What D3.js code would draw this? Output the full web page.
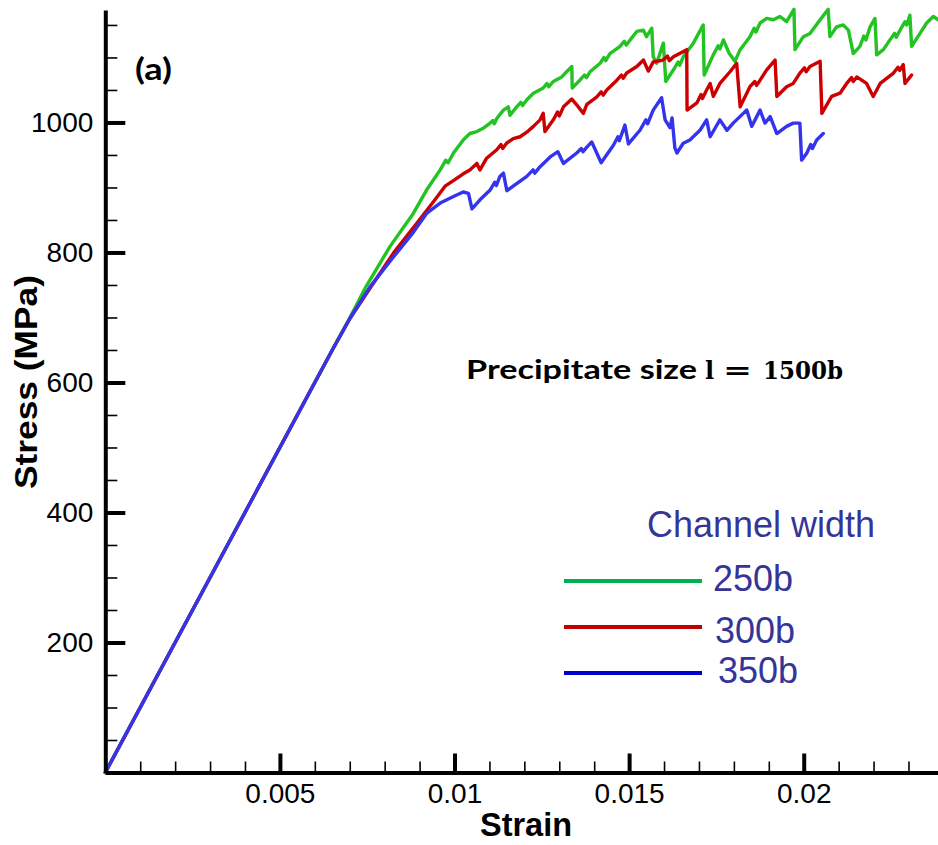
<!DOCTYPE html>
<html>
<head>
<meta charset="utf-8">
<script src="https://cdn.jsdelivr.net/npm/d3@7"></script>
<style>
  html, body { margin: 0; padding: 0; background: #fff; }
  svg { display: block; }
</style>
</head>
<body>
<svg id="chart" width="938" height="845"></svg>
<script>
// ---------------- DATA ----------------
const strainMajorTicks = [0.005, 0.01, 0.015, 0.02];
const strainTickLabels = ["0.005", "0.01", "0.015", "0.02"];
const stressMajorTicks = [200, 400, 600, 800, 1000];
const stressTickLabels = ["200", "400", "600", "800", "1000"];

const legendLabels = ["250b", "300b", "350b"];

// [strain, stress (MPa)]
const width250 = [[0,0],[0.0065,650],[0.0070,699],[0.00744,745],[0.00815,809],[0.00882,860],[0.00920,896],[0.00959,927],[0.00975,942],[0.00982,938],[0.00997,953],[0.01025,973],[0.01044,983],[0.01064,986],[0.01082,991],[0.01102,999],[0.01110,1003],[0.01114,998],[0.01121,1006],[0.01140,1019],[0.01154,1024],[0.01159,1011],[0.01178,1024],[0.01190,1031],[0.01195,1026],[0.01207,1035],[0.01226,1045],[0.01254,1053],[0.01265,1060],[0.01270,1055],[0.01283,1063],[0.01307,1070],[0.01321,1078],[0.01336,1086],[0.01337,1053],[0.01359,1065],[0.01372,1073],[0.01378,1069],[0.01388,1078],[0.01417,1091],[0.01428,1100],[0.01433,1095],[0.01445,1106],[0.01474,1117],[0.01486,1125],[0.01492,1119],[0.01503,1127],[0.01522,1140],[0.01541,1142],[0.01550,1132],[0.01565,1145],[0.01569,1101],[0.01579,1091],[0.01598,1122],[0.01605,1063],[0.01627,1081],[0.01640,1093],[0.01645,1088],[0.01655,1101],[0.01684,1122],[0.01712,1150],[0.01715,1073],[0.01741,1104],[0.01755,1118],[0.01760,1113],[0.01770,1127],[0.01787,1106],[0.01803,1094],[0.01818,1112],[0.01846,1132],[0.01858,1145],[0.01863,1139],[0.01875,1153],[0.01894,1160],[0.01913,1158],[0.01932,1163],[0.01951,1155],[0.01972,1174],[0.01975,1112],[0.01999,1132],[0.02018,1137],[0.02047,1158],[0.02070,1174],[0.02075,1132],[0.02094,1147],[0.02113,1150],[0.02128,1142],[0.02142,1106],[0.02161,1117],[0.02172,1133],[0.02178,1127],[0.02190,1147],[0.02204,1160],[0.02209,1104],[0.02228,1112],[0.02247,1127],[0.02260,1137],[0.02265,1131],[0.02276,1142],[0.02290,1155],[0.02295,1150],[0.02304,1165],[0.02309,1117],[0.02333,1137],[0.02352,1153],[0.02371,1163],[0.02385,1158]];

const width300 = [[0,0],[0.0065,650],[0.0070,698],[0.00758,745],[0.00825,799],[0.00892,845],[0.00944,881],[0.00973,902],[0.01001,912],[0.01025,921],[0.01044,927],[0.01064,937],[0.01073,927],[0.01092,945],[0.01121,958],[0.01133,966],[0.01138,960],[0.01149,968],[0.01168,975],[0.01188,978],[0.01207,985],[0.01226,994],[0.01245,1004],[0.01254,1014],[0.01259,986],[0.01283,1004],[0.01295,1016],[0.01300,1010],[0.01312,1024],[0.01336,1036],[0.01350,1027],[0.01369,1014],[0.01379,1028],[0.01407,1039],[0.01420,1047],[0.01426,1042],[0.01436,1050],[0.01465,1065],[0.01478,1073],[0.01483,1068],[0.01493,1076],[0.01522,1086],[0.01541,1096],[0.01555,1079],[0.01569,1093],[0.01597,1096],[0.01610,1102],[0.01615,1095],[0.01627,1101],[0.01665,1112],[0.01666,1019],[0.01694,1030],[0.01706,1043],[0.01710,1037],[0.01722,1050],[0.01732,1060],[0.01741,1040],[0.01760,1060],[0.01789,1078],[0.01808,1091],[0.01818,1024],[0.01846,1055],[0.01860,1063],[0.01865,1057],[0.01875,1065],[0.01894,1081],[0.01918,1096],[0.01923,1040],[0.01951,1055],[0.01970,1060],[0.01989,1076],[0.02002,1084],[0.02007,1078],[0.02018,1086],[0.02047,1094],[0.02052,1014],[0.02080,1040],[0.02104,1045],[0.02123,1060],[0.02137,1069],[0.02142,1063],[0.02152,1070],[0.02180,1060],[0.02199,1040],[0.02219,1060],[0.02257,1076],[0.02270,1085],[0.02275,1080],[0.02285,1089],[0.02290,1060],[0.02309,1073]];

const width350 = [[0,0],[0.0065,650],[0.0070,698],[0.00758,747],[0.00825,793],[0.00882,831],[0.00920,860],[0.00959,876],[0.00997,886],[0.01025,893],[0.01040,891],[0.01050,867],[0.01073,881],[0.01102,896],[0.01115,908],[0.01120,903],[0.01130,917],[0.01140,922],[0.01150,895],[0.01178,906],[0.01207,917],[0.01225,927],[0.01230,922],[0.01245,932],[0.01274,947],[0.01296,955],[0.01312,937],[0.01350,953],[0.01363,960],[0.01368,955],[0.01379,962],[0.01393,970],[0.01420,938],[0.01455,965],[0.01468,978],[0.01472,972],[0.01488,996],[0.01498,967],[0.01531,988],[0.01548,1004],[0.01553,998],[0.01569,1019],[0.01593,1038],[0.01603,1004],[0.01617,992],[0.01623,1007],[0.01631,961],[0.01637,953],[0.01655,968],[0.01674,973],[0.01703,988],[0.01722,1004],[0.01732,978],[0.01760,1004],[0.01780,988],[0.01798,999],[0.01827,1014],[0.01837,1019],[0.01851,994],[0.01875,1019],[0.01889,999],[0.01904,1009],[0.01923,983],[0.01951,994],[0.01970,999],[0.01989,999],[0.01994,942],[0.02009,953],[0.02020,966],[0.02025,960],[0.02037,973],[0.02056,983]];

const curveColors = ["#22c322", "#cc0000", "#3434ec"];
const legendColors = ["#00b050", "#c00000", "#0000cc"];

// ---------------- CHART ----------------
const svg = d3.select("#chart");
svg.append("rect").attr("width", 938).attr("height", 845).attr("fill", "#fff");

const x = d3.scaleLinear().domain([0, 0.024]).range([105.3, 943.4]);
const y = d3.scaleLinear().domain([0, 1173]).range([772.5, 10]);

const line = d3.line().x(d => x(d[0])).y(d => y(d[1]));

const plot = svg.append("g");
[width250, width300, width350].forEach((s, i) => {
  plot.append("path")
    .datum(s)
    .attr("d", line)
    .attr("fill", "none")
    .attr("stroke", curveColors[i])
    .attr("stroke-width", 3.4)
    .attr("stroke-linejoin", "round")
    .attr("stroke-linecap", "round");
});

// minor ticks
const strainMinor = d3.range(1, 24).map(k => k * 0.001).filter(v => !strainMajorTicks.some(m => Math.abs(m - v) < 1e-9));
const stressMinor = d3.range(1, 24).map(k => k * 50).filter(v => v % 200 !== 0);

const xMinorAxis = d3.axisBottom(x).tickValues(strainMinor).tickSize(-11).tickFormat("");
const yMinorAxis = d3.axisLeft(y).tickValues(stressMinor).tickSize(-12).tickFormat("");

const gxm = svg.append("g").attr("transform", "translate(0,772.5)").call(xMinorAxis);
const gym = svg.append("g").attr("transform", "translate(105.3,0)").call(yMinorAxis);
[gxm, gym].forEach(g => {
  g.select(".domain").remove();
  g.selectAll(".tick line").attr("stroke", "#000").attr("stroke-width", 1.6);
});

// major axes
const xAxis = d3.axisBottom(x).tickValues(strainMajorTicks).tickSize(-19).tickSizeOuter(0)
  .tickPadding(11).tickFormat((d, i) => strainTickLabels[i]);
const yAxis = d3.axisLeft(y).tickValues(stressMajorTicks).tickSize(-20).tickSizeOuter(0)
  .tickPadding(12).tickFormat((d, i) => stressTickLabels[i]);

const gx = svg.append("g").attr("transform", "translate(0,772.5)").call(xAxis);
const gy = svg.append("g").attr("transform", "translate(105.3,0)").call(yAxis);
[gx, gy].forEach(g => {
  g.select(".domain").attr("stroke", "#000").attr("stroke-width", 4);
  g.selectAll(".tick line").attr("stroke", "#000").attr("stroke-width", 4);
  g.selectAll(".tick text")
    .attr("fill", "#000")
    .style("font-family", "'Liberation Sans', Arial, sans-serif")
    .style("font-size", "28px");
});

// axis titles
svg.append("text")
  .attr("x", 526).attr("y", 836)
  .attr("text-anchor", "middle")
  .attr("textLength", 92).attr("lengthAdjust", "spacingAndGlyphs")
  .style("font-family", "'Liberation Sans', Arial, sans-serif")
  .style("font-weight", "bold").style("font-size", "34px")
  .text("Strain");

svg.append("text")
  .attr("transform", "translate(37,382) rotate(-90)")
  .attr("text-anchor", "middle")
  .attr("textLength", 214).attr("lengthAdjust", "spacingAndGlyphs")
  .style("font-family", "'Liberation Sans', Arial, sans-serif")
  .style("font-weight", "bold").style("font-size", "31px")
  .text("Stress (MPa)");

// panel label
svg.append("text")
  .attr("x", 135).attr("y", 80)
  .attr("textLength", 37).attr("lengthAdjust", "spacingAndGlyphs")
  .style("font-family", "Lato, 'Open Sans', sans-serif")
  .style("font-weight", "bold").style("font-size", "30px")
  .text("(a)");

// annotation
svg.append("text")
  .attr("x", 466).attr("y", 379)
  .attr("textLength", 231).attr("lengthAdjust", "spacingAndGlyphs")
  .style("font-family", "Lato, 'Open Sans', sans-serif")
  .style("font-weight", "bold").style("font-size", "26px")
  .text("Precipitate size");
const mathText = svg.append("text").attr("y", 379)
  .style("font-family", "'DejaVu Serif', 'Liberation Serif', serif")
  .style("font-weight", "bold").style("font-size", "24px");
mathText.append("tspan").attr("x", 705).text("l");
mathText.append("tspan").attr("x", 723).attr("textLength", 29).attr("lengthAdjust", "spacingAndGlyphs").text("=");
mathText.append("tspan").attr("x", 763).attr("textLength", 80).attr("lengthAdjust", "spacingAndGlyphs").text("1500b");

// legend
const legendColor = "#353597";
svg.append("text")
  .attr("x", 647).attr("y", 537)
  .attr("textLength", 228).attr("lengthAdjust", "spacingAndGlyphs")
  .attr("fill", legendColor)
  .style("font-family", "'Liberation Sans', Arial, sans-serif")
  .style("font-size", "36px")
  .text("Channel width");

const legendLineY = [581, 627, 673];
const legendTextX = [713, 715, 718];
const legendTextY = [591, 643, 683];
legendLabels.forEach((lab, i) => {
  svg.append("line")
    .attr("x1", 564).attr("x2", 702)
    .attr("y1", legendLineY[i]).attr("y2", legendLineY[i])
    .attr("stroke", legendColors[i]).attr("stroke-width", 4);
  svg.append("text")
    .attr("x", legendTextX[i]).attr("y", legendTextY[i])
    .attr("textLength", 80).attr("lengthAdjust", "spacingAndGlyphs")
    .attr("fill", legendColor)
    .style("font-family", "'Liberation Sans', Arial, sans-serif")
    .style("font-size", "36px")
    .text(lab);
});
</script>
</body>
</html>
